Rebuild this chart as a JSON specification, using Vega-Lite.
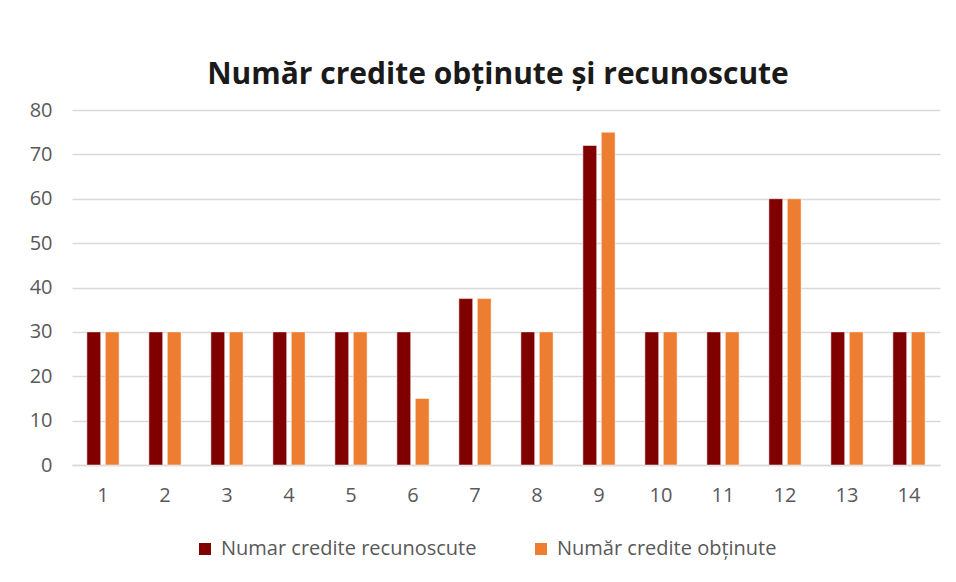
{
  "$schema": "https://vega.github.io/schema/vega-lite/v6.json",
  "width": 868,
  "height": 355,
  "autosize": "none",
  "padding": {"left": 72, "top": 110, "right": 16, "bottom": 117},
  "background": "white",
  "title": {
    "text": "Număr credite obținute și recunoscute",
    "font": "Open Sans",
    "fontSize": 30,
    "fontWeight": "bold",
    "color": "#1a1a1a",
    "anchor": "middle",
    "dx": -8,
    "offset": 10
  },
  "data": {
    "values": [
      {"nr": 1, "serie": "Numar credite recunoscute", "credite": 30},
      {"nr": 1, "serie": "Număr credite obținute", "credite": 30},
      {"nr": 2, "serie": "Numar credite recunoscute", "credite": 30},
      {"nr": 2, "serie": "Număr credite obținute", "credite": 30},
      {"nr": 3, "serie": "Numar credite recunoscute", "credite": 30},
      {"nr": 3, "serie": "Număr credite obținute", "credite": 30},
      {"nr": 4, "serie": "Numar credite recunoscute", "credite": 30},
      {"nr": 4, "serie": "Număr credite obținute", "credite": 30},
      {"nr": 5, "serie": "Numar credite recunoscute", "credite": 30},
      {"nr": 5, "serie": "Număr credite obținute", "credite": 30},
      {"nr": 6, "serie": "Numar credite recunoscute", "credite": 30},
      {"nr": 6, "serie": "Număr credite obținute", "credite": 15},
      {"nr": 7, "serie": "Numar credite recunoscute", "credite": 37.5},
      {"nr": 7, "serie": "Număr credite obținute", "credite": 37.5},
      {"nr": 8, "serie": "Numar credite recunoscute", "credite": 30},
      {"nr": 8, "serie": "Număr credite obținute", "credite": 30},
      {"nr": 9, "serie": "Numar credite recunoscute", "credite": 72},
      {"nr": 9, "serie": "Număr credite obținute", "credite": 75},
      {"nr": 10, "serie": "Numar credite recunoscute", "credite": 30},
      {"nr": 10, "serie": "Număr credite obținute", "credite": 30},
      {"nr": 11, "serie": "Numar credite recunoscute", "credite": 30},
      {"nr": 11, "serie": "Număr credite obținute", "credite": 30},
      {"nr": 12, "serie": "Numar credite recunoscute", "credite": 60},
      {"nr": 12, "serie": "Număr credite obținute", "credite": 60},
      {"nr": 13, "serie": "Numar credite recunoscute", "credite": 30},
      {"nr": 13, "serie": "Număr credite obținute", "credite": 30},
      {"nr": 14, "serie": "Numar credite recunoscute", "credite": 30},
      {"nr": 14, "serie": "Număr credite obținute", "credite": 30}
    ]
  },
  "mark": {"type": "bar", "stroke": "white", "strokeWidth": 0.5},
  "encoding": {
    "x": {
      "field": "nr",
      "type": "ordinal",
      "title": null,
      "scale": {"paddingInner": 0.48, "paddingOuter": 0.24},
      "axis": {
        "labelAngle": 0,
        "labelFont": "Open Sans",
        "labelFontSize": 20,
        "labelColor": "#595959",
        "labelPadding": 20,
        "ticks": false,
        "domainColor": "#d9d9d9",
        "domainWidth": 1.5
      }
    },
    "xOffset": {
      "field": "serie",
      "type": "nominal",
      "sort": ["Numar credite recunoscute", "Număr credite obținute"],
      "scale": {"paddingInner": 0.25}
    },
    "y": {
      "field": "credite",
      "type": "quantitative",
      "title": null,
      "scale": {"domain": [0, 80]},
      "axis": {
        "values": [0, 10, 20, 30, 40, 50, 60, 70, 80],
        "labelOverlap": false,
        "labelFont": "Open Sans",
        "labelFontSize": 20,
        "labelColor": "#595959",
        "labelPadding": 20,
        "ticks": false,
        "domain": false,
        "gridColor": "#d9d9d9",
        "gridWidth": 1.5
      }
    },
    "color": {
      "field": "serie",
      "type": "nominal",
      "sort": ["Numar credite recunoscute", "Număr credite obținute"],
      "scale": {
        "domain": ["Numar credite recunoscute", "Număr credite obținute"],
        "range": ["#800000", "#ED7D31"]
      },
      "legend": {
        "orient": "none",
        "legendX": 123,
        "legendY": 429,
        "direction": "horizontal",
        "title": null,
        "symbolType": "square",
        "symbolSize": 144,
        "symbolStrokeWidth": 0,
        "labelFont": "Open Sans",
        "labelFontSize": 20,
        "labelColor": "#595959",
        "labelLimit": 400,
        "labelOffset": 6,
        "columnPadding": 54
      }
    }
  },
  "config": {
    "view": {"stroke": null}
  }
}
